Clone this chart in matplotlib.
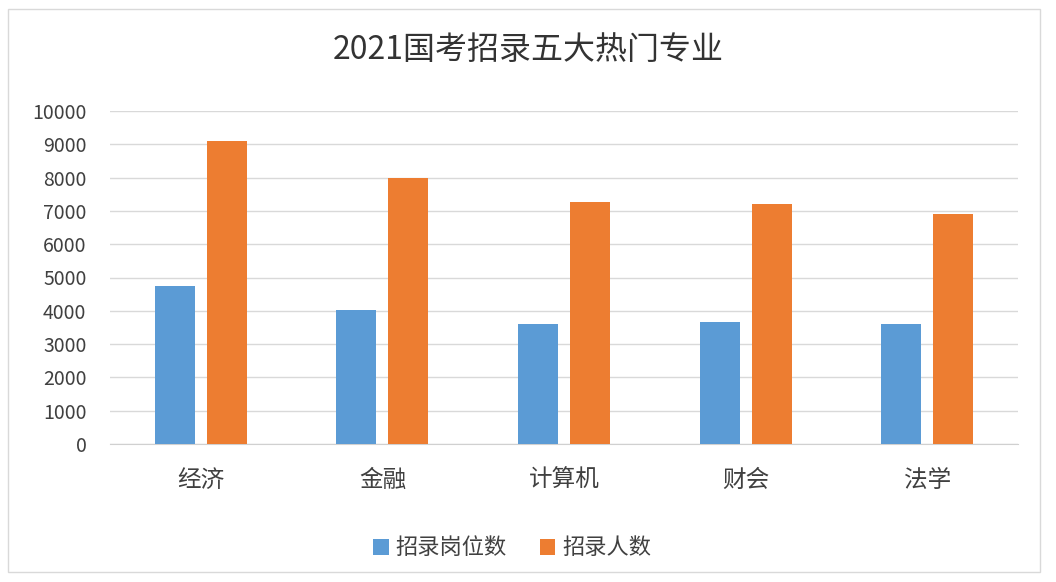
import matplotlib
matplotlib.use('Agg')
import matplotlib.pyplot as plt
from matplotlib.patches import Rectangle
import numpy as np

plt.rcParams['font.family'] = ['Noto Sans CJK SC', 'DejaVu Sans']

# data
majors = ['经济', '金融', '计算机', '财会', '法学']
posts = [4750, 4020, 3610, 3670, 3610]
people = [9100, 7990, 7280, 7220, 6920]
series_names = ['招录岗位数', '招录人数']

W, H = 1056, 582
fig = plt.figure(figsize=(W / 100, H / 100), dpi=100)
fig.patch.set_facecolor('white')

# thin frame round the whole chart
fig.patches.append(Rectangle((8 / W, 1 - 572 / H), (1040 - 8) / W, (572 - 9) / H,
                             transform=fig.transFigure, fill=False,
                             edgecolor='#d9d9d9', linewidth=1))

ax = fig.add_axes([110 / W, 1 - 444 / H, (1018 - 110) / W, (444 - 111) / H])

x = np.arange(len(majors))
bw = 0.22
off = 0.143
ax.bar(x - off, posts, bw, color='#5B9BD5', label=series_names[0], zorder=3)
ax.bar(x + off, people, bw, color='#ED7D31', label=series_names[1], zorder=3)

ax.set_xlim(-0.5, len(majors) - 0.5)
ax.set_ylim(0, 10000)
ax.set_yticks(range(0, 10001, 1000))
ax.set_xticks(x)
ax.set_xticklabels(majors, fontsize=17, color='#404040')
ax.tick_params(axis='y', labelsize=14, labelcolor='#404040', length=0, pad=17)
ax.tick_params(axis='x', length=0, pad=18)
ax.grid(axis='y', color='#d9d9d9', linewidth=1, zorder=0)

for s in ['top', 'right', 'left']:
    ax.spines[s].set_visible(False)
ax.spines['bottom'].set_color('#d0d0d0')

fig.text(528 / W, 1 - 50 / H, '2021国考招录五大热门专业', ha='center', va='center',
         fontsize=23, color='#333333')

leg = fig.legend(loc='center', bbox_to_anchor=(512 / W, 1 - 548 / H), ncol=2,
                 frameon=False, fontsize=16, handlelength=0.7, handleheight=0.7,
                 handletextpad=0.3, columnspacing=1.5)
for t in leg.get_texts():
    t.set_color('#404040')

fig.savefig('out.png', dpi=100, facecolor='white')
